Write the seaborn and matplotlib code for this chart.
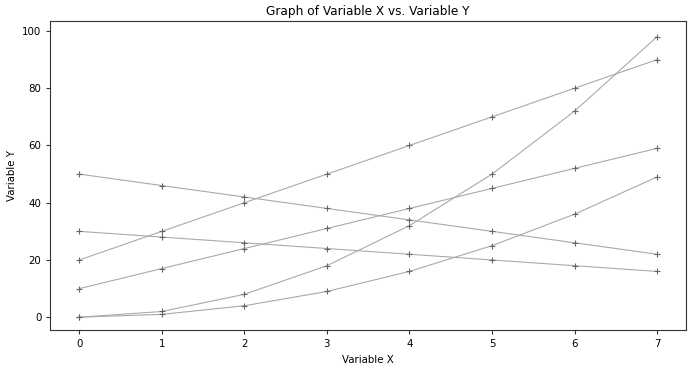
import matplotlib
matplotlib.use("Agg")
import matplotlib.pyplot as plt
import seaborn as sns
import pandas as pd

x = [0, 1, 2, 3, 4, 5, 6, 7]
s1 = [0, 2, 8, 18, 32, 50, 72, 98]
s2 = [0, 1, 4, 9, 16, 25, 36, 49]
s3 = [20, 30, 40, 50, 60, 70, 80, 90]
s4 = [10, 17, 24, 31, 38, 45, 52, 59]
s5 = [50, 46, 42, 38, 34, 30, 26, 22]
s6 = [30, 28, 26, 24, 22, 20, 18, 16]
series = {"s1": s1, "s2": s2, "s3": s3, "s4": s4, "s5": s5, "s6": s6}

rows = []
for name, vals in series.items():
    for xi, yi in zip(x, vals):
        rows.append({"x": xi, "y": yi, "series": name})
df = pd.DataFrame(rows)

sns.set_style("white")
plt.rcParams['font.family'] = ['DejaVu Sans']
fig, ax = plt.subplots(figsize=(7, 3.68), dpi=100)
sns.lineplot(data=df, x="x", y="y", units="series", estimator=None,
             color="#aaaaaa", linewidth=0.8, marker="+", markersize=5,
             markeredgecolor="#666666", markeredgewidth=0.8, ax=ax, legend=False)
fs = 8.7
ax.set_title("Graph of Variable X vs. Variable Y", fontsize=fs, color="black", pad=4)
ax.set_xlabel("Variable X", fontsize=fs * 0.85, color="black")
ax.set_ylabel("Variable Y", fontsize=fs * 0.85, color="black")
ax.tick_params(labelsize=fs * 0.85, length=3, left=True, bottom=True,
               color="#333333", labelcolor="black")
ax.set_xticks(x)
ax.set_yticks([0, 20, 40, 60, 80, 100])
ax.set_ylim(-4.5, 103.5)
for sp in ax.spines.values():
    sp.set_color("#333333")
    sp.set_linewidth(0.8)
fig.subplots_adjust(left=0.072, right=0.98, top=0.943, bottom=0.103)
fig.savefig("out.png", dpi=100)
